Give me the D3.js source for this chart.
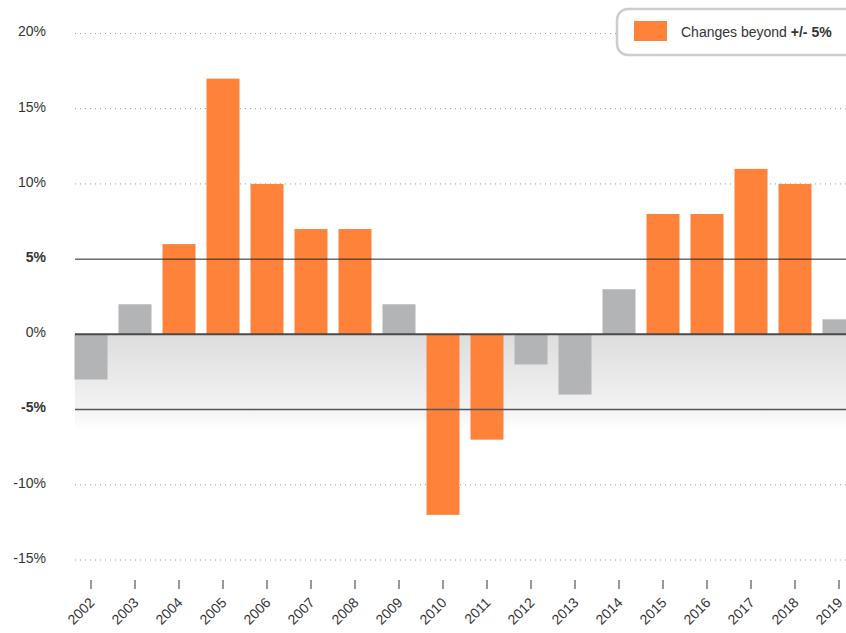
<!DOCTYPE html>
<html><head><meta charset="utf-8">
<script src="https://cdn.jsdelivr.net/npm/d3@7"></script>
<style>
body{margin:0;background:#fff;}
svg{display:block;font-family:"Liberation Sans",Arial,Helvetica,sans-serif;}
</style></head>
<body><svg id="c" width="846" height="633"></svg>
<script>
const years = ["2002","2003","2004","2005","2006","2007","2008","2009","2010","2011","2012","2013","2014","2015","2016","2017","2018","2019"];
const changes = [-3,2,6,17,10,7,7,2,-12,-7,-2,-4,3,8,8,11,10,1];
const yTicks = [-15,-10,-5,0,5,10,15,20];
const threshold = 5;
const legendLabel = "Changes beyond ";
const legendBold = "+/- 5%";

const svg = d3.select("#c");
const W = 846;
const x = d3.scaleBand().domain(years).range([69, 861]).paddingInner(0.25).paddingOuter(0.125);
const y = d3.scaleLinear().domain([-15, 20]).range([560, 33.5]);
const plotLeft = 75;

const defs = svg.append("defs");
const g = defs.append("linearGradient").attr("id","grad").attr("x1",0).attr("y1",0).attr("x2",0).attr("y2",1);
g.append("stop").attr("offset","0%").attr("stop-color","#dddddd");
g.append("stop").attr("offset","80%").attr("stop-color","#f3f3f3");
g.append("stop").attr("offset","100%").attr("stop-color","#ffffff");

// shaded band below zero
svg.append("rect").attr("x", plotLeft).attr("y", y(0))
  .attr("width", W - plotLeft).attr("height", y(-6.3) - y(0)).attr("fill","url(#grad)");

// dotted grid
svg.append("g").selectAll("line").data(yTicks.filter(d => Math.abs(d) !== threshold && d !== 0)).join("line")
  .attr("x1", plotLeft).attr("x2", W).attr("y1", d => y(d)).attr("y2", d => y(d))
  .attr("stroke","#9a9a9a").attr("stroke-width",1).attr("stroke-dasharray","1,4");

// y labels
svg.append("g").selectAll("text").data(yTicks).join("text")
  .attr("x", 46).attr("y", d => y(d) - 2).attr("dy","0.35em").attr("text-anchor","end")
  .attr("font-size", 14).attr("fill","#333")
  .attr("font-weight", d => Math.abs(d) === threshold ? "bold" : "normal")
  .text(d => d + "%");

// bars
svg.append("g").selectAll("rect").data(years).join("rect")
  .attr("x", d => x(d))
  .attr("width", x.bandwidth())
  .attr("y", (d,i) => y(Math.max(0, changes[i])))
  .attr("height", (d,i) => Math.abs(y(changes[i]) - y(0)))
  .attr("fill", (d,i) => Math.abs(changes[i]) > threshold ? "#ff823a" : "#b3b4b6");

// threshold & zero lines
svg.append("g").selectAll("line").data([threshold, 0, -threshold]).join("line")
  .attr("x1", plotLeft).attr("x2", W).attr("y1", d => y(d)).attr("y2", d => y(d))
  .attr("stroke", d => d === 0 ? "#4a4a4a" : (d < 0 ? "#555" : "#222"))
  .attr("stroke-width", d => d === 0 ? 2 : (d < 0 ? 1.5 : 1));

// x axis ticks and labels
const xa = svg.append("g").attr("transform","translate(0,580)")
  .call(d3.axisBottom(x).tickSize(9).tickPadding(6));
xa.select(".domain").remove();
xa.selectAll(".tick line").attr("stroke","#333");
xa.selectAll(".tick text")
  .attr("font-size", 14).attr("fill","#333").attr("font-family","'Liberation Sans',Arial,sans-serif")
  .attr("text-anchor","end").attr("dy","0.35em")
  .attr("transform","translate(1,20) rotate(-45)").attr("y",0).attr("x",0);

// legend
const lg = svg.append("g");
lg.append("rect").attr("x",617).attr("y",9).attr("width",245).attr("height",46).attr("rx",11)
  .attr("fill","#fff").attr("stroke","#cccccc").attr("stroke-width",2.5);
lg.append("rect").attr("x",634).attr("y",21).attr("width",33).attr("height",20).attr("fill","#ff823a");
const lt = lg.append("text").attr("x",681).attr("y",37).attr("font-size",14).attr("fill","#333");
lt.append("tspan").text(legendLabel);
lt.append("tspan").attr("font-weight","bold").text(legendBold);
</script></body></html>
